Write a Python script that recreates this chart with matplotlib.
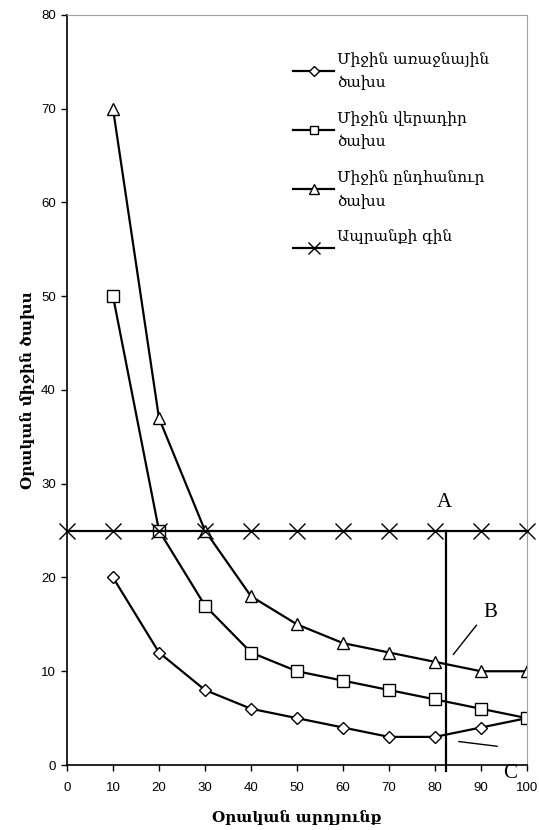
import matplotlib
matplotlib.use("Agg")
import matplotlib.pyplot as plt

# output levels
output = [10, 20, 30, 40, 50, 60, 70, 80, 90, 100]
avg_variable = [20, 12, 8, 6, 5, 4, 3, 3, 4, 5]
avg_fixed = [50, 25, 17, 12, 10, 9, 8, 7, 6, 5]
avg_total = [70, 37, 25, 18, 15, 13, 12, 11, 10, 10]

price_x = [0, 10, 20, 30, 40, 50, 60, 70, 80, 90, 100]
price_y = [25] * len(price_x)

labels = ["Միջին առաջնային\nծախս", "Միջին վերադիր\nծախս",
          "Միջին ընդհանուր\nծախս", "Ապրանքի գին\n "]

q_line = 82.5  # vertical line, output where price = MC

arm = "DejaVu Serif"
num = "Liberation Sans"

fig = plt.figure(figsize=(5.39, 8.30), dpi=100)
ax = fig.add_axes([0.1243, 0.0783, 0.8534, 0.9037])

ax.plot(output, avg_variable, "k-", lw=1.6, marker="D", ms=6,
        mfc="white", mec="black", mew=1, label=labels[0])
ax.plot(output, avg_fixed, "k-", lw=1.6, marker="s", ms=8,
        mfc="white", mec="black", mew=1, label=labels[1])
ax.plot(output, avg_total, "k-", lw=1.6, marker="^", ms=9,
        mfc="white", mec="black", mew=1, label=labels[2])
ax.plot(price_x, price_y, "k-", lw=1.6, marker="x", ms=11,
        mew=1, label=labels[3], clip_on=False, zorder=5)

ax.plot([q_line, q_line], [-0.6, 25], "k-", lw=1.6, clip_on=False)

ax.text(82, 27.5, "A", family="Liberation Serif", fontsize=15, ha="center")
ax.text(92, 15.8, "B", family="Liberation Serif", fontsize=15, ha="center")
ax.text(96.3, -1.4, "C", family="Liberation Serif", fontsize=15, ha="center")
ax.plot([84, 89], [11.8, 14.9], "k-", lw=1)
ax.plot([85.2, 93.5], [2.5, 2.0], "k-", lw=1)

ax.set_xlim(0, 100)
ax.set_ylim(0, 80)
ax.set_xticks(range(0, 101, 10))
ax.set_yticks(range(0, 81, 10))
for t in ax.get_xticklabels() + ax.get_yticklabels():
    t.set_family(num)
    t.set_fontsize(9.5)
ax.tick_params(direction="out", length=4, width=1, pad=8)
ax.tick_params(axis="y", pad=4)

for s in ["top", "right"]:
    ax.spines[s].set_color("#a0a0a0")
for s in ["left", "bottom"]:
    ax.spines[s].set_linewidth(1.2)

ax.set_xlabel("Օրական արդյունք", family=arm, fontweight="bold",
              fontsize=11, labelpad=12)
ax.set_ylabel("Օրական միջին ծախս", family=arm, fontweight="bold",
              fontsize=11, labelpad=4)

leg = ax.legend(loc="upper left", bbox_to_anchor=(0.475, 0.961),
                frameon=False, prop={"family": arm, "size": 11},
                handlelength=2.7, handletextpad=0.2, labelspacing=1.35,
                borderpad=0, markerscale=0.8)
for t in leg.get_texts():
    t.set_linespacing(1.75)

fig.savefig("out.png", dpi=100)
